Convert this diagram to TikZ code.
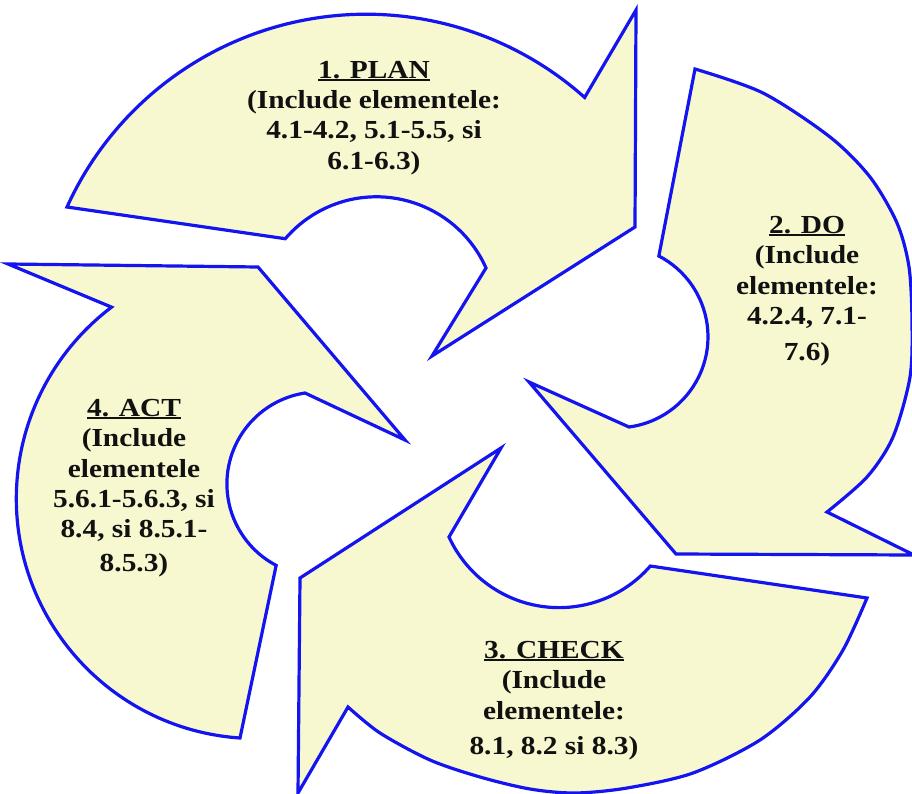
\documentclass[tikz,border=0pt]{standalone}
\usepackage{fontspec}
\setmainfont{Liberation Serif}[FakeStretch=1.13]
\usepackage{xcolor}
\definecolor{cyclefill}{HTML}{F8F8D0}
\definecolor{cycleblue}{HTML}{1414F0}
\definecolor{ink}{HTML}{111111}
\usepackage{tikz}
\tikzset{
  every picture/.style={line width=3.2pt},
  cyclearrow/.style={draw=cycleblue, fill=cyclefill, line join=miter},
  phase/.style={font=\bfseries\fontsize{26}{30.3}\selectfont, text=ink, align=center, inner sep=0pt, anchor=base},
}
\newcommand{\phaseline}[1]{\setbox0=\hbox{#1}\rlap{\rule[-2.3pt]{\wd0}{1.6pt}}\box0}

\begin{document}
\begin{tikzpicture}[x=1pt, y=-1pt]
  \useasboundingbox (0,0) rectangle (912,794);
  \draw[cyclearrow] (67,207) arc[start angle=-155.6, end angle=-48.3, radius=328.5]
    -- (636,10) -- (635,227) -- (432,356) -- (486,268)
    arc[start angle=-24, end angle=-139.4, radius=120] -- cycle;
  \draw[cyclearrow] plot[smooth] coordinates {(695,69) (763,93) (830,137) (870,177) (897,223) (909,267) (912,322) (910,377) (893,437) (867,477) (827,512)}
    -- (914,555) -- (676,554) -- (529,382) -- (629,427)
    arc[start angle=82.4, end angle=-62.6, radius=91] -- cycle;
  \draw[cyclearrow] plot[smooth] coordinates {(867,598) (843,650) (810,697) (760,740) (693,773) (627,788) (575,793) (530,789) (480,777) (430,760) (380,733) (348,707)}
    -- (298,793) -- (300,578) -- (501,448) -- (449,537)
    arc[start angle=155.4, end angle=41, radius=121] -- cycle;
  \draw[cyclearrow] (240,738) arc[start angle=93.9, end angle=232.9, radius=240]
    -- (8,264) -- (258,267) -- (405,440) -- (305,393)
    arc[start angle=-98.7, end angle=-242.3, radius=92] -- cycle;
  \node[phase] (plan) at (374,169.3) {\phaseline{1. PLAN}\\(Include elementele:\\4.1-4.2, 5.1-5.5, si\\6.1-6.3)};
  \node[phase] (do) at (807,360.7) {\phaseline{2. DO}\\(Include\\elementele:\\4.2.4, 7.1-\\[6pt]7.6)};
  \node[phase] (check) at (554,754) {\phaseline{3. CHECK}\\(Include\\elementele:\\[4.5pt]8.1, 8.2 si 8.3)};
  \node[phase] (act) at (134,571) {\phaseline{4. ACT}\\(Include\\elementele\\5.6.1-5.6.3, si\\8.4, si 8.5.1-\\[3pt]8.5.3)};
\end{tikzpicture}
\end{document}
